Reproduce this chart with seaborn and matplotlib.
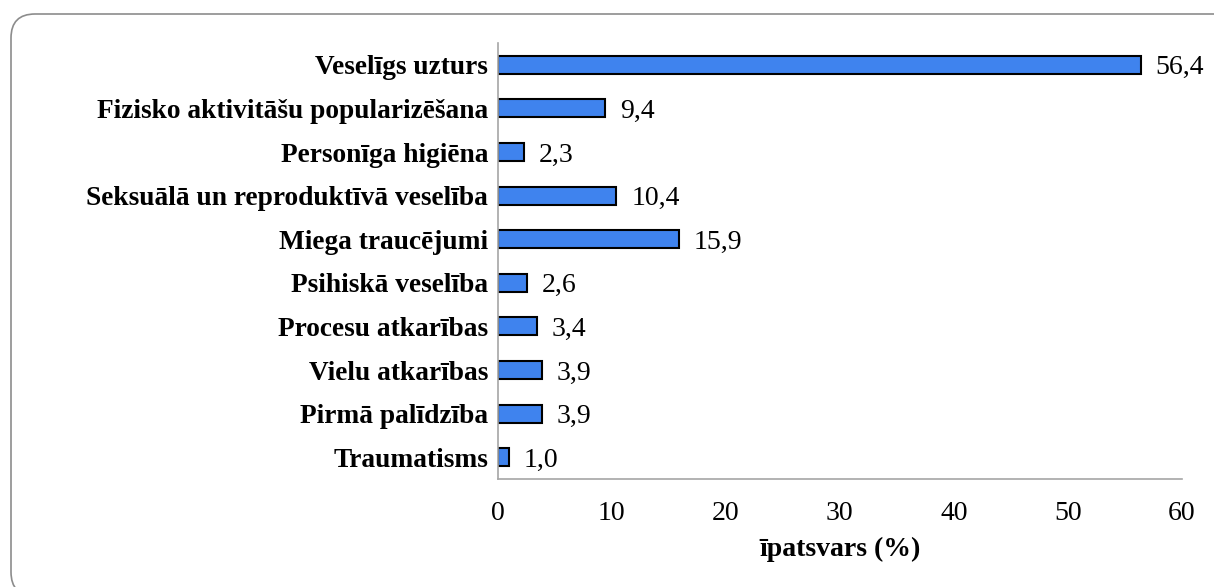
import matplotlib
matplotlib.use("Agg")
import matplotlib.pyplot as plt
import pandas as pd
import seaborn as sns
from matplotlib.patches import FancyBboxPatch

# Chart values
categories = [
    "Veselīgs uzturs",
    "Fizisko aktivitāšu popularizēšana",
    "Personīga higiēna",
    "Seksuālā un reproduktīvā veselība",
    "Miega traucējumi",
    "Psihiskā veselība",
    "Procesu atkarības",
    "Vielu atkarības",
    "Pirmā palīdzība",
    "Traumatisms",
]
shares = [56.4, 9.4, 2.3, 10.4, 15.9, 2.6, 3.4, 3.9, 3.9, 1.0]
x_ticks = [0, 10, 20, 30, 40, 50, 60]
x_label = "īpatsvars (%)"

BAR_COLOR = "#3F83EE"
AXIS_GREY = "#A6A6A6"


def main() -> None:
    sns.set_theme(style="white")
    plt.rcParams["font.family"] = ["Liberation Serif", "DejaVu Serif"]
    plt.rcParams["text.color"] = "black"
    plt.rcParams["axes.labelcolor"] = "black"

    df = pd.DataFrame({"category": categories, "share": shares})

    fig = plt.figure(figsize=(12.14, 5.87), dpi=100)
    ax = fig.add_axes([0.410, 0.184, 0.5636, 0.7427])

    sns.barplot(
        data=df, x="share", y="category", orient="h", ax=ax,
        color=BAR_COLOR, saturation=1, width=0.41,
        edgecolor="black", linewidth=1.5,
    )

    # Value labels with decimal comma, as in the source
    for i, v in enumerate(shares):
        ax.text(v + 1.3, i, f"{v:.1f}".replace(".", ","), va="center_baseline",
                ha="left", fontsize=20, color="black")

    ax.set_xlim(0, 60)
    ax.set_xticks(x_ticks)
    ax.set_xticklabels([str(t) for t in x_ticks], fontsize=20)
    ax.set_yticklabels(categories, fontsize=19.7, fontweight="bold")
    ax.set_xlabel(x_label, fontsize=20, fontweight="bold", labelpad=8)
    ax.set_ylabel("")
    ax.tick_params(axis="both", length=0, colors="black")
    ax.tick_params(axis="y", pad=7)
    ax.tick_params(axis="x", pad=16)

    for side in ["top", "right"]:
        ax.spines[side].set_visible(False)
    for side in ["left", "bottom"]:
        ax.spines[side].set_color(AXIS_GREY)
        ax.spines[side].set_linewidth(1.2)

    # Rounded outer frame; it runs off the right and bottom edges like the source
    frame = FancyBboxPatch(
        (0.11, -0.09), 13.13, 5.82,
        boxstyle="round,pad=0,rounding_size=0.24",
        transform=fig.dpi_scale_trans, fill=False,
        edgecolor="#8C8C8C", linewidth=1.2,
    )
    fig.patches.append(frame)

    fig.savefig("out.png", dpi=100)
    plt.close(fig)


if __name__ == "__main__":
    main()
